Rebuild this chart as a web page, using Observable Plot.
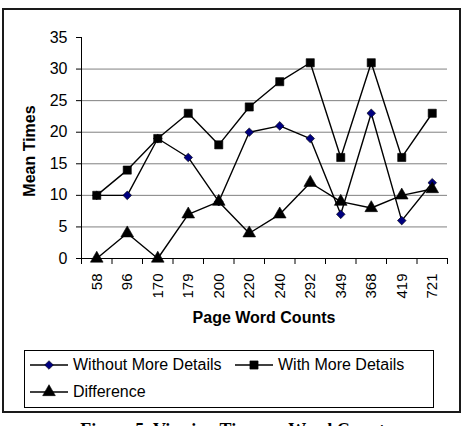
<!DOCTYPE html>
<html>
<head>
<meta charset="utf-8">
<script src="https://cdn.jsdelivr.net/npm/d3@7"></script>
<script src="https://cdn.jsdelivr.net/npm/@observablehq/plot@0.6"></script>
<style>
  html, body { margin: 0; padding: 0; background: #fff; }
  #wrap { position: relative; width: 466px; height: 426px; overflow: hidden; font-family: "Liberation Sans", Arial, sans-serif; color: #000; }
  #wrap svg.plot { position: absolute; left: 0; top: 0; }
  .abs { position: absolute; white-space: nowrap; }
  #border { left: 2px; top: 8px; width: 459px; height: 405px; border: 2px solid #1a1a1a; box-sizing: border-box; }
  #legend { left: 24px; top: 350px; width: 410px; height: 58px; border: 1px solid #000; box-sizing: border-box; }
  .item { position: absolute; display: flex; align-items: center; font-size: 16px; }
  .item svg { margin-right: 5px; }
</style>
</head>
<body>
<div id="wrap">
  <div id="border" class="abs"></div>
</div>
<script>
const categories = ["58","96","170","179","200","220","240","292","349","368","419","721"];
const withoutMore = [10, 10, 19, 16, 9, 20, 21, 19, 7, 23, 6, 12];
const withMore = [10, 14, 19, 23, 18, 24, 28, 31, 16, 31, 16, 23];
const difference = [0, 4, 0, 7, 9, 4, 7, 12, 9, 8, 10, 11];
const yTicks = [0, 5, 10, 15, 20, 25, 30, 35];
const seriesNames = ["Without More Details", "With More Details", "Difference"];

const seriesDefs = [
  {name: seriesNames[0], values: withoutMore, symbol: "diamond2", fill: "#000080", r: 3.9},
  {name: seriesNames[1], values: withMore, symbol: "square", fill: "#000", r: 4.6},
  {name: seriesNames[2], values: difference, symbol: "triangle", fill: "#000", r: 4.7}
];

const n = categories.length;
const idx = d3.range(n);
const boundaries = d3.range(-0.5, n, 1);
const grid = yTicks.filter(v => v > yTicks[0] && v < yTicks[yTicks.length - 1]);

const marks = [
  Plot.ruleY(grid, {stroke: "#808080", strokeWidth: 1}),
  Plot.ruleX([-0.5], {y1: yTicks[0], y2: yTicks[yTicks.length - 1], stroke: "#000", strokeWidth: 1}),
  Plot.ruleY([0], {stroke: "#000", strokeWidth: 1}),
  Plot.axisY({ticks: yTicks, tickSize: 5, tickPadding: 9, fontSize: 16, label: null}),
  Plot.axisX({ticks: boundaries, tickFormat: () => "", tickSize: 6, label: null}),
  Plot.axisX({ticks: idx, tickFormat: i => categories[i], tickRotate: -90, tickSize: 0, tickPadding: 15, fontSize: 15, label: null})
];
for (const s of seriesDefs) {
  const rows = s.values.map((v, i) => ({i, v}));
  marks.push(Plot.line(rows, {x: "i", y: "v", stroke: "#000", strokeWidth: 1.4}));
}
for (const s of seriesDefs) {
  const rows = s.values.map((v, i) => ({i, v}));
  marks.push(Plot.dot(rows, {x: "i", y: "v", symbol: () => s.symbol, fill: s.fill, stroke: "#000", strokeWidth: 0.6, r: s.r}));
}

const chart = Plot.plot({
  width: 466,
  height: 426,
  marginLeft: 81,
  marginRight: 19,
  marginTop: 37,
  marginBottom: 168,
  x: {type: "linear", domain: [-0.5, n - 0.5], axis: null},
  y: {domain: [yTicks[0], yTicks[yTicks.length - 1]], axis: null},
  symbol: {type: "identity"},
  style: {fontFamily: "\"Liberation Sans\", Arial, sans-serif", fontSize: "16px", background: "transparent", color: "#000"},
  marks
});
chart.classList.add("plot");
const wrap = document.getElementById("wrap");
wrap.insertBefore(chart, wrap.firstChild);

// Axis titles
const yTitle = document.createElement("div");
yTitle.className = "abs";
yTitle.textContent = "Mean Times";
Object.assign(yTitle.style, {left: "30px", top: "151px", transform: "translate(-50%,-50%) rotate(-90deg)", fontWeight: "bold", fontSize: "16px"});
wrap.appendChild(yTitle);

const xTitle = document.createElement("div");
xTitle.className = "abs";
xTitle.textContent = "Page Word Counts";
Object.assign(xTitle.style, {left: "264px", top: "318px", transform: "translate(-50%,-50%)", fontWeight: "bold", fontSize: "16px"});
wrap.appendChild(xTitle);

// Legend
const legend = document.createElement("div");
legend.id = "legend";
legend.className = "abs";
wrap.appendChild(legend);
const legendPos = [[5, 5], [210, 5], [5, 32]];
seriesDefs.forEach((s, k) => {
  const item = document.createElement("div");
  item.className = "item";
  item.style.left = legendPos[k][0] + "px";
  item.style.top = legendPos[k][1] + "px";
  const sym = {diamond2: d3.symbolDiamond2, square: d3.symbolSquare, triangle: d3.symbolTriangle}[s.symbol];
  const path = d3.symbol(sym, Math.PI * s.r * s.r)();
  item.innerHTML = `<svg width="38" height="16" viewBox="0 0 38 16"><line x1="0" x2="38" y1="8" y2="8" stroke="#000" stroke-width="1.4"/><path transform="translate(19,8)" d="${path}" fill="${s.fill}" stroke="#000" stroke-width="0.6"/></svg><span>${s.name}</span>`;
  legend.appendChild(item);
});

// Caption (cut off at the bottom edge, as in the reference)
const cap = document.createElement("div");
cap.className = "abs";
cap.textContent = "Figure 5. Viewing Time vs. Word Counts";
Object.assign(cap.style, {left: "236px", top: "421px", transform: "translateX(-50%)", fontFamily: "\"Liberation Serif\", \"Times New Roman\", serif", fontWeight: "bold", fontSize: "18px", lineHeight: "18px"});
wrap.appendChild(cap);
</script>
</body>
</html>
